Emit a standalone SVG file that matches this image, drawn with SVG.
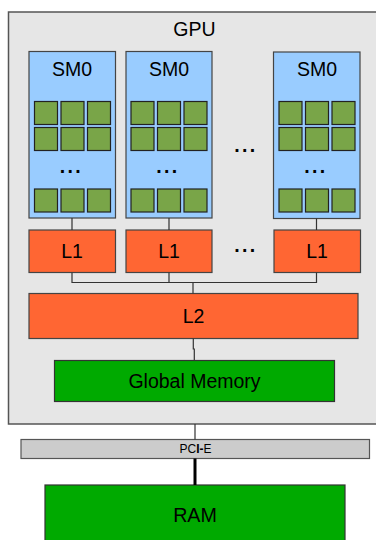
<svg xmlns="http://www.w3.org/2000/svg" width="376" height="540" viewBox="0 0 376 540">
  <style>
    text { font-family: "Liberation Sans", Arial, sans-serif; fill: #000; text-anchor: middle; }
    .gpu { fill: #e6e6e6; stroke: #555; stroke-width: 1.5; }
    .sm { fill: #99ccff; stroke: #444; stroke-width: 1.2; }
    .core { fill: #79a548; stroke: #222; stroke-width: 1.2; }
    .cache { fill: #ff6633; stroke: #444; stroke-width: 1.2; }
    .mem { fill: #00aa00; stroke: #333; stroke-width: 1.2; }
    .bus { fill: #cccccc; stroke: #555; stroke-width: 1.2; }
    .wire { fill: none; stroke: #333; stroke-width: 1.2; }
    .lbl { font-size: 19.5px; }
    .dots { font-size: 19.5px; font-weight: bold; letter-spacing: 2.3px; }
  </style>
  <defs>
    <g id="cores">
      <rect class="core" x="0" y="0" width="23" height="23"/>
      <rect class="core" x="26.5" y="0" width="23" height="23"/>
      <rect class="core" x="53" y="0" width="23" height="23"/>
      <rect class="core" x="0" y="26" width="23" height="23"/>
      <rect class="core" x="26.5" y="26" width="23" height="23"/>
      <rect class="core" x="53" y="26" width="23" height="23"/>
      <text class="dots" x="36.8" y="71.5">...</text>
      <rect class="core" x="0" y="87.5" width="23" height="23"/>
      <rect class="core" x="26.5" y="87.5" width="23" height="23"/>
      <rect class="core" x="53" y="87.5" width="23" height="23"/>
    </g>
  </defs>

  <g id="gpu">
    <rect class="gpu" x="8.5" y="12" width="372" height="412"/>
    <text class="lbl" x="194.5" y="35.5">GPU</text>
  </g>

  <!-- streaming multiprocessors -->
  <g id="sm-1">
    <rect class="sm" x="29" y="51.5" width="86.5" height="166.5"/>
    <text class="lbl" x="72" y="75.7">SM0</text>
    <use href="#cores" x="34.5" y="101.5"/>
  </g>
  <g id="sm-2">
    <rect class="sm" x="126" y="51.5" width="86" height="166.5"/>
    <text class="lbl" x="169" y="75.7">SM0</text>
    <use href="#cores" x="131" y="101.5"/>
  </g>
  <g id="sm-3">
    <rect class="sm" x="273.5" y="52" width="86.5" height="166.5"/>
    <text class="lbl" x="317" y="75.7">SM0</text>
    <use href="#cores" x="279" y="101.5"/>
  </g>
  <text class="dots" x="245.8" y="152.3">...</text>

  <!-- L1 caches -->
  <g id="l1-1">
    <rect class="cache" x="29" y="230" width="86.5" height="42.5"/>
    <text class="lbl" x="72" y="258.3">L1</text>
  </g>
  <g id="l1-2">
    <rect class="cache" x="126" y="230" width="86" height="42.5"/>
    <text class="lbl" x="169" y="258.3">L1</text>
  </g>
  <g id="l1-3">
    <rect class="cache" x="274" y="230" width="86.5" height="42.5"/>
    <text class="lbl" x="317" y="258.3">L1</text>
  </g>
  <text class="dots" x="245.8" y="252.3">...</text>

  <g id="l2">
    <rect class="cache" x="29" y="293.5" width="329" height="45"/>
    <text class="lbl" x="193.5" y="323.3">L2</text>
  </g>

  <g id="global-memory">
    <rect class="mem" x="54.5" y="360.5" width="280" height="41"/>
    <text class="lbl" x="194.5" y="387.7">Global Memory</text>
  </g>

  <g id="pcie">
    <rect class="bus" x="21" y="439.5" width="348.5" height="19"/>
    <text x="195.5" y="453.3" font-size="12">PC<tspan font-weight="bold">I-</tspan>E</text>
  </g>

  <g id="ram">
    <rect class="mem" x="45" y="485" width="300" height="60"/>
    <text x="195" y="522" font-size="19.7">RAM</text>
  </g>

  <!-- connectors -->
  <g id="connectors">
    <path class="wire" d="M72,218 V230 M169,218 V230 M316.5,218.5 V230"/>
    <path class="wire" d="M72,272.5 V282.5 H316.5 V272.5 M169,272.5 V282.5 M193,282.5 V293.5"/>
    <path class="wire" d="M193.3,338.5 V349 H194.3 V360.5"/>
    <path class="wire" d="M195,424 V439.5"/>
    <path fill="none" stroke="#000" stroke-width="3" d="M195,458.5 V485"/>
  </g>
</svg>
